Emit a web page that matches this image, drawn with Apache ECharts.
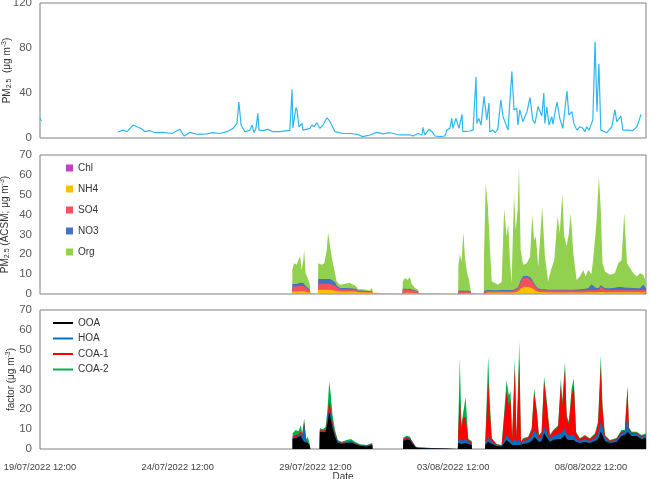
<!DOCTYPE html>
<html>
<head>
<meta charset="utf-8">
<script src="https://cdn.jsdelivr.net/npm/echarts/dist/echarts.min.js"></script>
<style>
  html, body { margin: 0; padding: 0; background: #fff; }
  #chart { width: 650px; height: 479px; }
</style>
</head>
<body>
<div id="chart"></div>
<script>
// x values are days since 19/07/2022 12:00
const dateTicks = ['19/07/2022 12:00', '24/07/2022 12:00', '29/07/2022 12:00', '03/08/2022 12:00', '08/08/2022 12:00'];

// top panel: PM2.5 (µg m-3)
const pmDays = [0.00, 0.05, 1.00,
  2.83, 3.01, 3.16, 3.38, 3.52, 3.70, 3.81, 3.99, 4.17, 4.46, 4.79, 5.08, 5.23, 5.44, 5.70, 6.06, 6.28, 6.53, 6.79,
  7.01, 7.15, 7.22, 7.30, 7.44, 7.62, 7.70, 7.77, 7.84, 7.91, 7.95, 8.09, 8.28, 8.46, 8.71, 8.97, 9.07, 9.15, 9.18,
  9.29, 9.33, 9.40, 9.51, 9.55, 9.80, 9.87, 9.95, 10.05, 10.16, 10.27, 10.42, 10.53, 10.71, 11.00, 11.25, 11.51,
  11.72, 11.98, 12.23, 12.45, 12.70, 13.07, 13.43, 13.54, 13.72, 13.87, 13.90, 13.97, 14.12, 14.23, 14.34, 14.52,
  14.70, 14.77, 14.88, 14.95, 14.99, 15.10, 15.14, 15.21, 15.32, 15.35, 15.61, 15.72, 15.83, 15.86, 15.93, 16.01,
  16.12, 16.22, 16.30, 16.33, 16.44, 16.52, 16.62, 16.73, 16.81, 16.88, 16.99, 17.13, 17.21, 17.31, 17.35, 17.42,
  17.53, 17.68, 17.79, 17.89, 17.97, 18.08, 18.15, 18.22, 18.29, 18.33, 18.40, 18.48, 18.58, 18.62, 18.77, 18.87,
  18.98, 19.13, 19.20, 19.31, 19.38, 19.49, 19.60, 19.71, 19.78, 19.85, 19.93, 20.07, 20.15, 20.22, 20.29, 20.36,
  20.58, 20.76, 20.87, 20.94, 21.09, 21.16, 21.34, 21.52, 21.67, 21.82];
const pmValues = [18, 15, null,
  5.3, 7, 5.6, 11.5, 10, 8, 5.6, 6.5, 4.7, 5, 4, 7.7, 1.8, 5, 3.3, 3.6, 4.7, 4, 5.6,
  8.6, 13, 32, 11.5, 5.6, 7, 11.5, 4.7, 8.6, 22, 7, 6.5, 7.7, 5.6, 5.6, 6.5, 6.5, 43, 9,
  27, 25, 10, 13, 7, 8.6, 11.5, 10, 13.6, 8.6, 11.5, 18, 14.5, 5.6, 4, 4, 3.3,
  1.2, 2.7, 5, 3.6, 4.7, 2.7, 2.7, 1.8, 4, 2.7, 9.5, 2.7, 7.7, 5.6, 1.8, 1.2,
  1.8, 7, 8.6, 17.5, 8.6, 17.5, 19, 8.6, 21, 5.6, 6.2, 7, 54.5, 13, 17.5, 11.5,
  37, 16, 31, 5.6, 7, 4.7, 7.7, 34, 19, 19.5, 7, 59, 25, 26.4, 11.5, 25,
  14.5, 23.4, 36, 16, 13, 28, 29, 19.5, 40, 13, 27.8, 11.5, 19, 12.4, 32, 17.5,
  8.6, 41.8, 20.4, 23.4, 13, 7, 10, 8.6, 5.6, 10, 7, 16, 85.6, 23.4, 66, 7,
  4.7, 10, 25, 14.5, 19.5, 7, 7, 6.5, 10, 21];

// middle panel: ACSM species (µg m-3); the 0 pairs mark the no-data gaps
const acsmDays = [
  9.16, 9.22, 9.32, 9.44, 9.50, 9.56, 9.59, 9.64, 9.72, 9.80,
  9.81, 10.09,
  10.10, 10.23, 10.32, 10.41, 10.46, 10.53, 10.61, 10.71, 10.77, 10.89, 11.07, 11.25, 11.37, 11.46, 11.55, 11.70, 11.86, 11.98, 12.06,
  12.07, 13.16,
  13.17, 13.25, 13.35, 13.43, 13.49, 13.61, 13.73,
  13.74, 15.18,
  15.19, 15.24, 15.30, 15.37, 15.43, 15.51, 15.58, 15.64,
  15.65, 16.11,
  16.12, 16.18, 16.26, 16.33, 16.40, 16.52, 16.62, 16.76, 16.85, 16.94,
  17.00, 17.06, 17.12, 17.21, 17.27, 17.34, 17.39, 17.45, 17.54, 17.67,
  17.79, 17.87, 17.94, 18.00, 18.09, 18.23, 18.33, 18.45, 18.55, 18.67,
  18.79, 18.87, 18.96, 19.03, 19.12, 19.20, 19.27, 19.36, 19.48, 19.60,
  19.72, 19.81, 19.90, 20.02, 20.08, 20.20, 20.29, 20.36, 20.42, 20.51,
  20.69, 20.87, 20.99, 21.11, 21.21, 21.31, 21.42, 21.54, 21.66, 21.78,
  21.90, 22.00];
const chl = [
  0.1, 0.1, 0.1, 0.1, 0.1, 0.1, 0.1, 0.1, 0.1, 0.1,
  0, 0,
  0.1, 0.1, 0.1, 0.1, 0.1, 0.1, 0.1, 0.1, 0.1, 0.1, 0.1, 0.1, 0.1, 0.1, 0.1, 0.1, 0.1, 0.1, 0.1,
  0, 0,
  0.1, 0.1, 0.1, 0.1, 0.1, 0.1, 0.1,
  0, 0,
  0.1, 0.1, 0.1, 0.1, 0.1, 0.1, 0.1, 0.1,
  0, 0,
  0.1, 0.1, 0.1, 0.1, 0.1, 0.1, 0.1, 0.1, 0.1, 0.1,
  0.1, 0.1, 0.1, 0.1, 0.1, 0.1, 0.1, 0.1, 0.1, 0.1,
  0.1, 0.1, 0.1, 0.1, 0.1, 0.1, 0.1, 0.1, 0.1, 0.1,
  0.1, 0.1, 0.1, 0.1, 0.1, 0.1, 0.1, 0.1, 0.1, 0.1,
  0.1, 0.1, 0.1, 0.1, 0.1, 0.1, 0.1, 0.1, 0.1, 0.1,
  0.1, 0.1, 0.1, 0.1, 0.1, 0.1, 0.1, 0.1, 0.1, 0.1,
  0.1, 0.1];
const nh4 = [
  1.2, 1.2, 1.2, 1.3, 1.2, 1.3, 1.3, 1, 0.8, 0.6,
  0, 0,
  2, 2, 2, 2, 2, 2, 1.8, 1.5, 1.2, 1.2, 1.2, 1.2, 1.2, 1.1, 0.8, 0.8, 0.7, 0.6, 0.7,
  0, 0,
  0.5, 0.5, 0.5, 0.5, 0.5, 0.4, 0.3,
  0, 0,
  0.3, 0.3, 0.3, 0.3, 0.3, 0.3, 0.3, 0.3,
  0, 0,
  0.5, 0.6, 0.6, 0.6, 0.6, 0.6, 0.6, 0.6, 0.6, 0.6,
  0.6, 0.6, 0.6, 0.7, 0.8, 1, 1.5, 2.5, 3.5, 3.5,
  3.2, 2.8, 2, 1.5, 1, 0.8, 0.8, 0.7, 0.7, 0.7,
  0.7, 0.7, 0.7, 0.7, 0.7, 0.7, 0.7, 0.7, 0.7, 0.7,
  0.7, 0.7, 0.8, 0.8, 0.8, 0.8, 0.9, 1, 0.9, 0.8,
  0.8, 0.8, 0.8, 0.8, 0.8, 0.8, 0.8, 0.8, 0.8, 0.8,
  0.8, 0.8];
const so4 = [
  2.5, 2.6, 2.5, 2.8, 2.5, 2.7, 2.7, 2, 1.5, 1,
  0, 0,
  3, 3, 3, 3, 3.2, 3, 2.8, 2.5, 2, 1, 1, 0.9, 0.9, 0.8, 0.5, 0.5, 0.4, 0.4, 0.5,
  0, 0,
  1.5, 1.5, 1.4, 1.5, 1.3, 1, 0.8,
  0, 0,
  0.8, 0.9, 0.9, 0.9, 0.8, 0.8, 0.7, 0.7,
  0, 0,
  0.6, 0.8, 0.8, 0.7, 0.7, 0.7, 0.7, 0.8, 0.8, 0.8,
  0.8, 0.8, 0.8, 0.9, 1, 1.5, 2.5, 3.5, 4.5, 4.7,
  4.3, 3.5, 2.5, 1.8, 1.2, 1, 1, 0.9, 0.9, 0.9,
  0.9, 0.9, 0.9, 0.9, 0.9, 0.9, 0.9, 0.9, 0.9, 1,
  1, 1, 1, 1, 1, 1, 1.2, 2.5, 2, 1.2,
  1, 1, 1.1, 1.1, 1.1, 1, 1, 1, 1, 1,
  1.2, 1];
const no3 = [
  1.2, 1.3, 1.2, 1.5, 1.3, 1.5, 1.5, 1, 0.7, 0.5,
  0, 0,
  2.5, 2.5, 2.5, 2.5, 2.6, 2.5, 2.2, 1.8, 1, 0.7, 0.7, 0.7, 0.6, 0.6, 0.4, 0.4, 0.3, 0.3, 0.3,
  0, 0,
  0.5, 0.5, 0.5, 0.5, 0.4, 0.3, 0.3,
  0, 0,
  0.4, 0.4, 0.4, 0.5, 0.4, 0.4, 0.4, 0.4,
  0, 0,
  0.4, 0.5, 0.5, 0.5, 0.5, 0.5, 0.5, 0.5, 0.5, 0.5,
  0.5, 0.5, 0.5, 0.5, 0.5, 0.5, 0.6, 0.7, 0.8, 0.9,
  0.9, 0.8, 0.7, 0.6, 0.5, 0.5, 0.5, 0.5, 0.5, 0.5,
  0.5, 0.5, 0.5, 0.5, 0.5, 0.5, 0.5, 0.5, 0.6, 0.6,
  0.7, 0.8, 1, 3, 2, 1, 0.9, 0.8, 0.8, 0.8,
  1, 1.3, 1.5, 1.5, 1.3, 1.2, 1.2, 1.1, 1, 1,
  2.5, 1];
const org = [
  7.2, 10.3, 9.7, 13.4, 7, 11.5, 16.5, 6.4, 5, 2.4,
  0, 0,
  7.9, 7.1, 7.9, 14.5, 23.2, 16.3, 10.2, 4.6, 2, 1.6, 2.1, 2.6, 1.8, 1.5, 0.6, 0.6, 0.6, 0.4, 1.5,
  0, 0,
  3.7, 5.4, 4.6, 5.9, 2.8, 1.2, 0.6,
  0, 0,
  12.5, 18.4, 14.4, 29.3, 16.5, 8.5, 5.6, 4.6,
  0, 0,
  18.5, 53.8, 42.1, 22.2, 4.4, 3.6, 2.7, 4.1, 41.1, 27.1,
  33.1, 15.1, 3.6, 47.9, 29.7, 39, 59.4, 15.3, 5.8, 6.3,
  10.4, 32.7, 21.8, 25.1, 11.1, 41.7, 16.5, 4.1, 9.9, 14.9,
  36.9, 28.4, 48.6, 26.9, 21.9, 28.4, 38.5, 18.4, 4.8, 6.4,
  9.6, 6.2, 9.2, 5.2, 13.2, 32.8, 56, 37.7, 11.7, 8.4,
  6.8, 7.3, 12, 13.6, 37.4, 12.4, 10, 7.5, 5.9, 7.6,
  5.1, 3.2];

// bottom panel: PMF factors (µg m-3); the 0 pairs mark the no-data gaps
const factorDays = [
  9.17, 9.28, 9.38, 9.47, 9.52, 9.59, 9.66, 9.72, 9.80,
  9.81, 10.15,
  10.16, 10.28, 10.37, 10.44, 10.50, 10.56, 10.62, 10.71, 10.81, 10.95, 11.13, 11.29, 11.43, 11.62, 11.86, 12.06,
  12.07, 13.18,
  13.19, 13.31, 13.43, 13.49, 13.64, 13.73,
  13.74, 15.17,
  15.18, 15.24, 15.30, 15.36, 15.45, 15.55, 15.67,
  15.68, 16.16,
  16.17, 16.27, 16.33, 16.40, 16.58, 16.76, 16.82, 16.94, 17.02, 17.08,
  17.14, 17.24, 17.30, 17.40, 17.46, 17.54, 17.72, 17.85, 17.94, 18.03,
  18.11, 18.21, 18.30, 18.39, 18.51, 18.63, 18.81, 18.91, 18.96, 19.06,
  19.12, 19.20, 19.30, 19.38, 19.46, 19.60, 19.78, 19.96, 20.15, 20.26,
  20.36, 20.42, 20.51, 20.69, 20.93, 21.11, 21.23, 21.33, 21.38, 21.48,
  21.66, 21.84, 22.00];
const ooa = [
  5, 5.5, 6, 6.7, 5, 3.5, 3, 3, 1.2,
  0, 0,
  8.7, 8.4, 8.7, 13, 18.8, 14.6, 10.4, 6.2, 3.2, 2.6, 3, 3.3, 2.5, 1.6, 1.3, 2,
  0, 0,
  4.2, 4.8, 4.5, 3.3, 0.8, 0.5,
  0, 0,
  3, 2.5, 2.5, 3, 3, 2.5, 2,
  0, 0,
  2, 3.7, 3, 2.5, 1.5, 1.2, 1.5, 4.5, 3.5, 3,
  2, 2, 2, 2, 1.5, 2.5, 3, 4, 6, 5,
  3.5, 4, 7.9, 6, 3.5, 4.5, 5, 5, 4.5, 7,
  5, 4.5, 4.5, 4.5, 3.5, 3, 3.5, 3, 4, 5,
  8.7, 7, 4, 3, 3.5, 6.5, 7, 8.5, 7.5, 6.5,
  6.5, 5, 5.5];
const hoa = [
  0.5, 0.6, 0.5, 1, 0.7, 9, 1, 2, 0.3,
  0, 0,
  0.5, 0.4, 0.6, 1.5, 2.5, 2, 1.5, 1, 0.4, 0.3, 0.4, 0.4, 0.3, 0.2, 0.2, 0.3,
  0, 0,
  0.4, 0.5, 0.5, 0.4, 0.1, 0.1,
  0, 0,
  1, 3, 1.5, 2, 2, 1, 0.8,
  0, 0,
  0.5, 2.5, 2, 1, 0.5, 0.4, 0.5, 2.5, 2, 2,
  1.5, 3, 1.5, 3, 1, 1.5, 1.5, 2, 3.5, 3,
  1.5, 2, 3.3, 3, 1.5, 2, 2.5, 3, 3, 3.4,
  2.5, 2, 2.5, 2.5, 1.5, 1, 1.5, 1, 1.5, 3,
  5.1, 4, 1.5, 0.8, 1, 1.5, 1.5, 8, 2, 1.2,
  1.2, 1, 1.2];
const coa1 = [
  0.7, 1, 0.8, 1.3, 0.8, 1, 0.5, 0.5, 0.2,
  0, 0,
  0.4, 0.4, 0.6, 2, 3.4, 3, 1.5, 0.7, 0.3, 0.2, 0.3, 0.3, 0.2, 0.1, 0.1, 0.2,
  0, 0,
  0.5, 0.7, 0.6, 0.4, 0.1, 0.1,
  0, 0,
  3, 20, 6, 11, 11, 1, 0.8,
  0, 0,
  2, 28, 14, 1.5, 0.3, 0.2, 0.5, 22, 16, 20,
  1.5, 36, 1.5, 40, 1, 1, 1.2, 3.5, 18.5, 11,
  1.5, 2, 22.5, 14, 1.5, 2.5, 3.5, 24, 14, 29.4,
  8, 6, 20, 25, 3, 1, 1.5, 1, 1.8, 4.5,
  27.6, 9, 1, 0.4, 0.6, 1, 0.6, 14, 1, 0.5,
  0.5, 0.5, 0.6];
const coa2 = [
  1.7, 2.5, 1.7, 3, 1.4, 1.9, 0.5, 0.7, 0.3,
  0, 0,
  0.8, 0.8, 1.3, 4, 9.3, 7.4, 3.6, 1.7, 0.6, 0.6, 0.8, 1, 0.7, 0.5, 0.4, 0.5,
  0, 0,
  0.6, 0.7, 0.6, 0.4, 0.2, 0.1,
  0, 0,
  2, 20.2, 2, 2, 10, 0.5, 0.4,
  0, 0,
  1, 12.3, 5, 0.5, 0.2, 0.2, 0.3, 5.8, 5.5, 4,
  0.5, 4.7, 0.4, 9, 0.2, 0.5, 0.5, 0.9, 2.6, 1.5,
  0.5, 0.7, 2.7, 2.5, 0.5, 0.6, 1, 3.6, 2.5, 4.2,
  1.5, 1.3, 3.6, 3.6, 0.7, 0.4, 0.5, 0.4, 0.6, 1.3,
  5.9, 2, 0.5, 0.3, 0.4, 0.6, 0.5, 1.5, 0.5, 0.5,
  0.5, 0.5, 0.6];

const FONT = 'Liberation Sans';
const pair = (xs, ys) => xs.map((x, i) => [x, ys[i]]);
// running totals, so each layer is drawn as an area from 0 with the upper layers behind it
const upTo = (...layers) => layers[0].map((_, i) => layers.reduce((s, l) => s + l[i], 0));

const xAxisBase = (idx, showLabels) => ({
  type: 'value', gridIndex: idx, min: 0, max: 22, interval: 5,
  axisLine: { show: false }, axisTick: { show: false }, splitLine: { show: false },
  axisLabel: {
    show: showLabels, margin: 14, fontFamily: FONT, fontSize: 9.3, color: '#404040',
    showMaxLabel: false,
    formatter: v => dateTicks[v / 5] || ''
  }
});

const yAxisBase = (idx, max, interval, name, gap) => ({
  type: 'value', gridIndex: idx, min: 0, max: max, interval: interval,
  axisLine: { show: false }, axisTick: { show: false }, splitLine: { show: false },
  axisLabel: { margin: 8, fontFamily: FONT, fontSize: 11.5, color: '#595959' },
  name: name, nameLocation: 'middle', nameRotate: 90, nameGap: gap, nameMoveOverlap: false,
  nameTextStyle: {
    fontFamily: FONT, color: '#333',
    rich: {
      a: { fontFamily: FONT, fontSize: 10, lineHeight: 12, color: '#333' },
      s: { fontFamily: FONT, fontSize: 7, lineHeight: 8, verticalAlign: 'bottom', color: '#333' },
      p: { fontFamily: FONT, fontSize: 7, lineHeight: 8, verticalAlign: 'top', color: '#333' }
    }
  }
});

const area = (name, color, xs, ys, axis) => ({
  name: name, type: 'line', xAxisIndex: axis, yAxisIndex: axis,
  data: pair(xs, ys), color: color, symbol: 'none', showSymbol: false,
  lineStyle: { width: 0 }, areaStyle: { color: color, opacity: 1 }
});

const gridBase = top => ({
  left: 40, right: 4, top: top, show: true, borderColor: '#808080', borderWidth: 1,
  outerBoundsMode: 'none', containLabel: false
});

const chart = echarts.init(document.getElementById('chart'));
chart.setOption({
  animation: false,
  backgroundColor: '#fff',
  textStyle: { fontFamily: FONT },
  grid: [
    Object.assign(gridBase(3), { height: 135 }),
    Object.assign(gridBase(155), { height: 139 }),
    Object.assign(gridBase(310), { height: 139 })
  ],
  xAxis: [
    xAxisBase(0, false),
    xAxisBase(1, false),
    Object.assign(xAxisBase(2, true), {
      name: 'Date', nameLocation: 'middle', nameGap: 23, nameMoveOverlap: false,
      nameTextStyle: { fontFamily: FONT, fontSize: 10, color: '#333' }
    })
  ],
  yAxis: [
    yAxisBase(0, 120, 40, '{a|PM}{s|2.5}{a|  (μg m}{p|-3}{a|)}', 27),
    yAxisBase(1, 70, 10, '{a|PM}{s|2.5}{a| (ACSM; μg m}{p|-3}{a|)}', 29),
    yAxisBase(2, 70, 10, '{a|factor (μg m}{p|-3}{a|)}', 23)
  ],
  legend: [
    {
      data: ['Chl', 'NH4', 'SO4', 'NO3', 'Org'],
      orient: 'vertical', left: 61, top: 157, icon: 'rect',
      itemWidth: 7, itemHeight: 7, itemGap: 9,
      textStyle: { fontFamily: FONT, fontSize: 10, lineHeight: 12, color: '#333' }
    },
    {
      data: ['OOA', 'HOA', 'COA-1', 'COA-2'],
      orient: 'vertical', left: 48, top: 312, icon: 'rect',
      itemWidth: 20, itemHeight: 2, itemGap: 3.5,
      textStyle: { fontFamily: FONT, fontSize: 10, lineHeight: 12, color: '#333' }
    }
  ],
  series: [
    {
      name: 'PM2.5', type: 'line', xAxisIndex: 0, yAxisIndex: 0,
      data: pair(pmDays, pmValues), color: '#2db7f0', symbol: 'none',
      lineStyle: { width: 1.2, color: '#2db7f0' }, connectNulls: false
    },
    area('Org', '#92d050', acsmDays, upTo(chl, nh4, so4, no3, org), 1),
    area('NO3', '#4472c4', acsmDays, upTo(chl, nh4, so4, no3), 1),
    area('SO4', '#f5515a', acsmDays, upTo(chl, nh4, so4), 1),
    area('NH4', '#ffc000', acsmDays, upTo(chl, nh4), 1),
    area('Chl', '#c43fc4', acsmDays, chl, 1),
    area('COA-2', '#00b050', factorDays, upTo(ooa, hoa, coa1, coa2), 2),
    area('COA-1', '#ff0000', factorDays, upTo(ooa, hoa, coa1), 2),
    area('HOA', '#0070c0', factorDays, upTo(ooa, hoa), 2),
    area('OOA', '#000000', factorDays, ooa, 2)
  ]
});
</script>
</body>
</html>
